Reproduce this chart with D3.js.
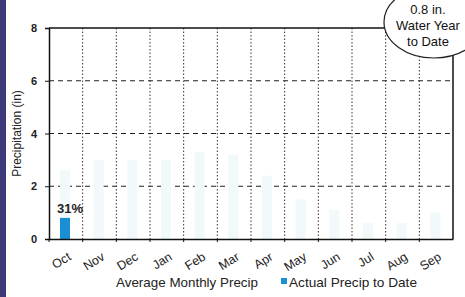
<!DOCTYPE html>
<html>
<head>
<meta charset="utf-8">
<script src="https://cdn.jsdelivr.net/npm/d3@7"></script>
<style>
  body { margin: 0; background: #fff; }
  svg { display: block; font-family: "Liberation Sans", "DejaVu Sans", sans-serif; }
</style>
</head>
<body>
<div id="chart"></div>
<script>
const months = ['Oct', 'Nov', 'Dec', 'Jan', 'Feb', 'Mar', 'Apr', 'May', 'Jun', 'Jul', 'Aug', 'Sep'];
const avgPrecip = [2.6, 3.0, 3.0, 3.0, 3.3, 3.2, 2.4, 1.5, 1.1, 0.6, 0.6, 1.0];
const actualPrecip = [0.8];
const actualLabels = ['31%'];
const yTicks = [0, 2, 4, 6, 8];
const bubbleLines = ['0.8 in.', 'Water Year', 'to Date'];

const W = 465, H = 297;
const margin = { top: 28, right: 12, bottom: 58, left: 49 };

const svg = d3.select('#chart').append('svg')
  .attr('width', W)
  .attr('height', H);

// dark strip at the left edge of the scan
svg.append('rect').attr('x', 0).attr('y', 0).attr('width', 6).attr('height', H).attr('fill', '#3c3a78');

const x = d3.scaleBand().domain(months).range([margin.left, W - margin.right]);
const y = d3.scaleLinear().domain([0, 8]).range([H - margin.bottom, margin.top]);

// horizontal dashed grid
svg.append('g')
  .selectAll('line')
  .data(yTicks.filter(d => d > 0 && d < 8))
  .enter().append('line')
  .attr('x1', margin.left).attr('x2', W - margin.right)
  .attr('y1', d => y(d)).attr('y2', d => y(d))
  .attr('stroke', '#222').attr('stroke-width', 1.2)
  .attr('stroke-dasharray', '5,4');

// vertical dotted grid at month boundaries
svg.append('g')
  .selectAll('line')
  .data(months.slice(1))
  .enter().append('line')
  .attr('x1', d => x(d)).attr('x2', d => x(d))
  .attr('y1', y(8)).attr('y2', y(0))
  .attr('stroke', '#333').attr('stroke-width', 1)
  .attr('stroke-dasharray', '1.5,2');

// average monthly bars (almost washed out in the scan)
const barOff = 11, barW = 10;
svg.append('g')
  .selectAll('rect')
  .data(avgPrecip)
  .enter().append('rect')
  .attr('x', (d, i) => x(months[i]) + barOff)
  .attr('y', d => y(d))
  .attr('width', barW)
  .attr('height', d => y(0) - y(d))
  .attr('fill', '#f1f9fa');

// actual precip bars
svg.append('g')
  .selectAll('rect')
  .data(actualPrecip)
  .enter().append('rect')
  .attr('x', (d, i) => x(months[i]) + barOff)
  .attr('y', d => y(d))
  .attr('width', barW)
  .attr('height', d => y(0) - y(d))
  .attr('fill', '#1a8fd4');

svg.append('g')
  .selectAll('text')
  .data(actualPrecip)
  .enter().append('text')
  .attr('x', (d, i) => x(months[i]) + barOff + barW / 2 + 5)
  .attr('y', d => y(d) - 5)
  .attr('text-anchor', 'middle')
  .attr('font-size', 13)
  .attr('font-weight', 'bold')
  .attr('fill', '#222')
  .text((d, i) => actualLabels[i]);

// frame: top and right
svg.append('line')
  .attr('x1', margin.left).attr('x2', W - margin.right)
  .attr('y1', y(8)).attr('y2', y(8))
  .attr('stroke', '#111').attr('stroke-width', 1.5);
svg.append('line')
  .attr('x1', W - margin.right).attr('x2', W - margin.right)
  .attr('y1', y(8)).attr('y2', y(0))
  .attr('stroke', '#111').attr('stroke-width', 1.5);

// y axis
const yAxis = svg.append('g')
  .attr('transform', 'translate(' + margin.left + ',0)')
  .call(d3.axisLeft(y).tickValues(yTicks).tickSize(4).tickFormat(d3.format('d')));
yAxis.select('.domain').attr('stroke', '#111').attr('stroke-width', 1.5);
yAxis.selectAll('.tick line').attr('stroke', '#111');
yAxis.selectAll('.tick text')
  .attr('font-size', 11).attr('font-weight', 'bold').attr('fill', '#222')
  .attr('font-family', '"Liberation Sans", sans-serif')
  .attr('x', -12);

// x axis
const xAxis = svg.append('g')
  .attr('transform', 'translate(0,' + y(0) + ')')
  .call(d3.axisBottom(x).tickSize(3).tickSizeOuter(0));
xAxis.select('.domain').attr('stroke', '#111').attr('stroke-width', 1.5);
xAxis.selectAll('.tick line')
  .attr('stroke', '#111')
  .attr('transform', function () { return 'translate(' + (-x.bandwidth() / 2) + ',0)'; });
xAxis.selectAll('.tick text')
  .attr('font-size', 12.5).attr('fill', '#222')
  .attr('font-family', '"Liberation Sans", sans-serif')
  .attr('text-anchor', 'end')
  .attr('x', 0).attr('y', 0).attr('dy', 0)
  .attr('transform', 'translate(6,20) rotate(-32)');

// y title
svg.append('text')
  .attr('transform', 'translate(21,' + ((y(0) + y(8)) / 2) + ') rotate(-90)')
  .attr('text-anchor', 'middle')
  .attr('font-size', 12)
  .attr('fill', '#222')
  .text('Precipitation (in)');

// legend
svg.append('text')
  .attr('x', 116).attr('y', 287)
  .attr('font-size', 13.5).attr('fill', '#222')
  .attr('textLength', 142).attr('lengthAdjust', 'spacingAndGlyphs')
  .text('Average Monthly Precip');
svg.append('rect')
  .attr('x', 281).attr('y', 278).attr('width', 6).attr('height', 6)
  .attr('fill', '#1a8fd4');
svg.append('text')
  .attr('x', 289).attr('y', 287)
  .attr('font-size', 13.5).attr('fill', '#222')
  .attr('textLength', 128).attr('lengthAdjust', 'spacingAndGlyphs')
  .text('Actual Precip to Date');

// bubble, partly off the right edge as in the scan
svg.append('ellipse')
  .attr('cx', 434).attr('cy', 22)
  .attr('rx', 50).attr('ry', 36)
  .attr('fill', '#fff').attr('stroke', '#222').attr('stroke-width', 1.2);
svg.append('g')
  .selectAll('text')
  .data(bubbleLines)
  .enter().append('text')
  .attr('x', 428)
  .attr('y', (d, i) => 14 + i * 16)
  .attr('text-anchor', 'middle')
  .attr('font-size', 13)
  .attr('fill', '#111')
  .text(d => d);
</script>
</body>
</html>
